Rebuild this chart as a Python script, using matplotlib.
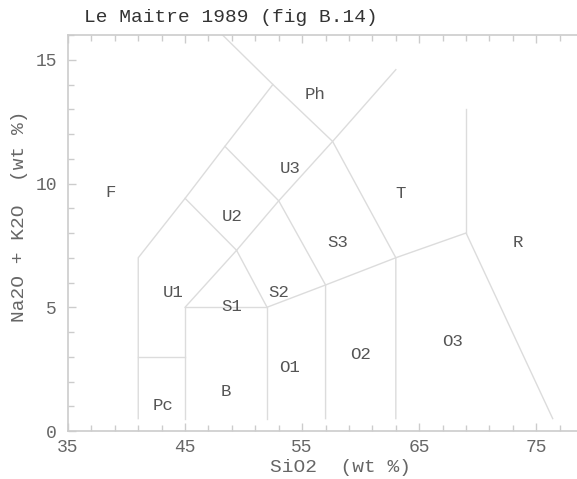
import matplotlib.pyplot as plt
import numpy as np
from matplotlib.ticker import FixedLocator, MultipleLocator

# TAS field boundaries (SiO2, Na2O+K2O), each a polyline
boundaries = [
    [(41, 0.5), (41, 7), (45, 9.4), (48.4, 11.5), (52.5, 14), (48.2, 16)],
    [(41, 3), (45, 3)],
    [(45, 0.5), (45, 5), (52, 5), (52, 0.5)],
    [(45, 5), (49.4, 7.3), (52, 5)],
    [(45, 9.4), (49.4, 7.3)],
    [(49.4, 7.3), (53, 9.3), (57.6, 11.7), (63, 14.6)],
    [(48.4, 11.5), (53, 9.3), (57, 5.9), (57, 0.5)],
    [(52, 5), (57, 5.9), (63, 7), (69, 8), (76.4, 0.5)],
    [(52.5, 14), (57.6, 11.7), (63, 7), (63, 0.5)],
    [(69, 8), (69, 13)],
]

field_names = ['F', 'Ph', 'U3', 'U2', 'T', 'S3', 'R', 'U1', 'S1', 'S2',
               'O1', 'O2', 'O3', 'Pc', 'B']
field_x = [38.6, 56.1, 54.0, 49.0, 63.4, 58.0, 73.4, 44.0, 49.0, 53.0,
           53.9, 60.0, 67.8, 43.1, 48.5]
field_y = [9.65, 13.6, 10.6, 8.65, 9.6, 7.6, 7.6, 5.6, 5.05, 5.6,
           2.55, 3.1, 3.6, 1.05, 1.6]

xticks_major = [35, 45, 55, 65, 75]
yticks_major = [0, 5, 10, 15]

mono = 'Liberation Mono'
txt = '#666666'

fig = plt.figure(figsize=(5.77, 4.79), dpi=100)
ax = fig.add_axes([68 / 577, 48 / 479, 521 / 577, 396 / 479])

for line in boundaries:
    pts = np.array(line)
    ax.plot(pts[:, 0], pts[:, 1], color='#dcdcdc', lw=1.0)

for name, x, y in zip(field_names, field_x, field_y):
    ax.text(x, y, name, ha='center', va='center', family=mono,
            fontsize=12.5, color='#555555')

ax.set_xlim(35, 79.5)
ax.set_ylim(0, 16)
ax.xaxis.set_major_locator(FixedLocator(xticks_major))
ax.xaxis.set_minor_locator(FixedLocator(np.arange(35, 80, 2)))
ax.yaxis.set_major_locator(FixedLocator(yticks_major))
ax.yaxis.set_minor_locator(MultipleLocator(1))
ax.tick_params(which='both', direction='in', top=True, right=True,
               color='#cccccc', labelcolor=txt)
ax.tick_params(which='major', length=6, width=1)
ax.tick_params(which='minor', length=4, width=1)
ax.tick_params(axis='x', which='major', pad=6)
ax.tick_params(axis='y', which='major', pad=8)
for lab in ax.get_xticklabels() + ax.get_yticklabels():
    lab.set_family(mono)
    lab.set_fontsize(13)
for s in ax.spines.values():
    s.set_color('#cccccc')
    s.set_linewidth(1.2)

fig.text(84 / 577, 1 - 18 / 479, 'Le Maitre 1989 (fig B.14)', family=mono,
         fontsize=14, color='#333333', ha='left', va='center')
fig.text(340 / 577, 1 - 467 / 479, 'SiO2  (wt %)', family=mono,
         fontsize=14, color=txt, ha='center', va='center')
fig.text(20 / 577, 1 - 216 / 479, 'Na2O + K2O  (wt %)', family=mono,
         fontsize=14, color=txt, ha='center', va='center', rotation=90)

fig.savefig('out.png', dpi=100)
